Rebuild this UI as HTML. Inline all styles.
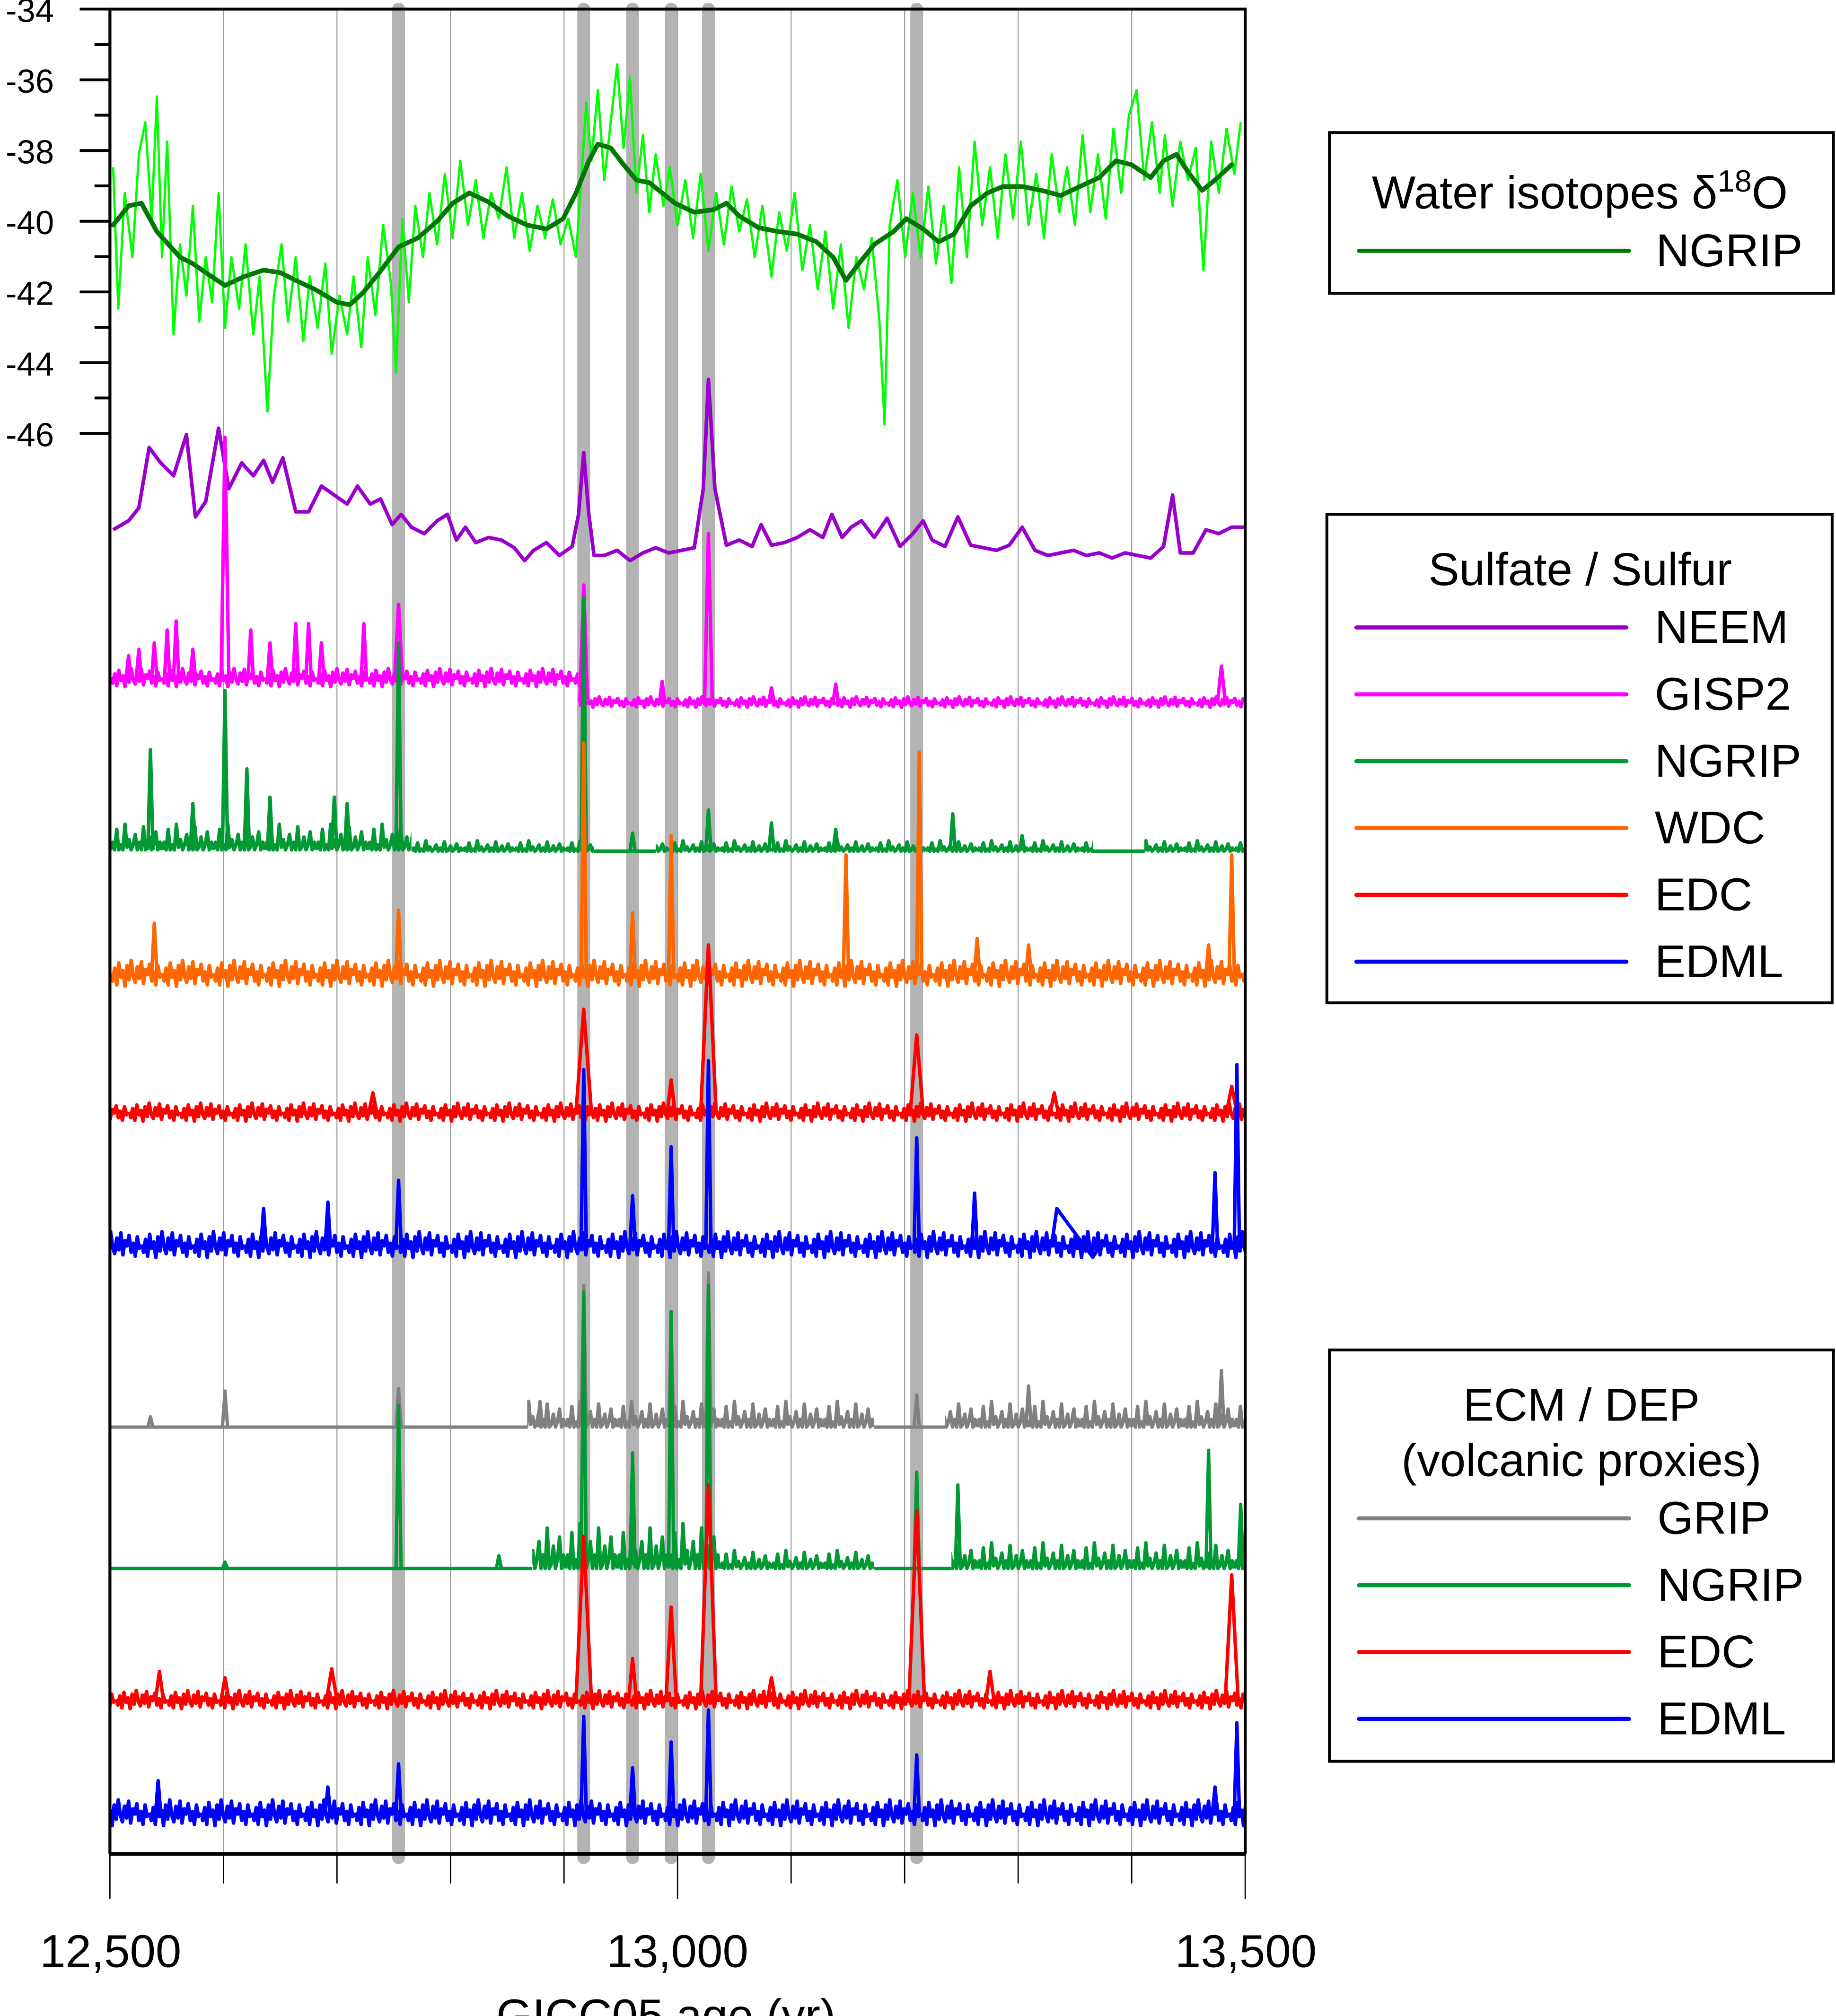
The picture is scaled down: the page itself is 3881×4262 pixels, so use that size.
<!DOCTYPE html>
<html><head><meta charset="utf-8"><style>html,body{margin:0;padding:0;background:#fff}svg{display:block}text{font-family:"Liberation Sans",Arial,sans-serif;fill:#000}</style></head>
<body>
<svg xmlns="http://www.w3.org/2000/svg" width="3881" height="4262" viewBox="0 0 1428 1568">
<defs>
<path id="z4" fill="none" stroke-width="2.8" stroke-linejoin="round" d="M0,0 L1.6,2.4 3.2,-1.6 4.8,3.6 6.4,-3.2 8,1.2 9.6,-0.8 11.2,4 12.8,-2.4 14.4,2 16,-4 17.6,0.8 19.2,2.8 20.8,-2 22.4,1.6 24,-3.6 25.6,3.2 27.2,-1.2 28.8,0.4 30.4,-2.8 32,2.4 33.6,-0.4 35.2,3.6 36.8,-2.4 38.4,1.2 40,0"/>
<path id="z7" fill="none" stroke-width="2.8" stroke-linejoin="round" d="M0,0 L1.6,4.2 3.2,-2.8 4.8,6.3 6.4,-5.6 8,2.1 9.6,-1.4 11.2,7 12.8,-4.2 14.4,3.5 16,-7 17.6,1.4 19.2,4.9 20.8,-3.5 22.4,2.8 24,-6.3 25.6,5.6 27.2,-2.1 28.8,0.7 30.4,-4.9 32,4.2 33.6,-0.7 35.2,6.3 36.8,-4.2 38.4,2.1 40,0"/>
<path id="z10" fill="none" stroke-width="2.8" stroke-linejoin="round" d="M0,0 L1.6,6 3.2,-4 4.8,9 6.4,-8 8,3 9.6,-2 11.2,10 12.8,-6 14.4,5 16,-10 17.6,2 19.2,7 20.8,-5 22.4,4 24,-9 25.6,8 27.2,-3 28.8,1 30.4,-7 32,6 33.6,-1 35.2,9 36.8,-6 38.4,3 40,0"/>
<path id="u8" fill="none" stroke-width="2.8" stroke-linejoin="round" d="M0,0 L1.6,-2.4 3.2,0 4.8,-6.4 6.4,0 8,-1.6 9.6,0 11.2,-8 12.8,-0.8 14.4,-3.2 16,0 17.6,-1.6 19.2,-4.8 20.8,0 22.4,-2.4 24,0 25.6,-7.2 27.2,0 28.8,-0.8 30.4,-4 32,0 33.6,-1.6 35.2,-5.6 36.8,0 38.4,-2.4 40,0"/>
<path id="u14" fill="none" stroke-width="2.7" stroke-linejoin="round" d="M0,0 L1.6,-4.2 3.2,0 4.8,-11.2 6.4,0 8,-2.8 9.6,0 11.2,-14 12.8,-1.4 14.4,-5.6 16,0 17.6,-2.8 19.2,-8.4 20.8,0 22.4,-4.2 24,0 25.6,-12.6 27.2,0 28.8,-1.4 30.4,-7 32,0 33.6,-2.8 35.2,-9.8 36.8,0 38.4,-4.2 40,0"/>
<path id="u20" fill="none" stroke-width="2.7" stroke-linejoin="round" d="M0,0 L1.6,-6 3.2,0 4.8,-16 6.4,0 8,-4 9.6,0 11.2,-20 12.8,-2 14.4,-8 16,0 17.6,-4 19.2,-12 20.8,0 22.4,-6 24,0 25.6,-18 27.2,0 28.8,-2 30.4,-10 32,0 33.6,-4 35.2,-14 36.8,0 38.4,-6 40,0"/>
<path id="u35" fill="none" stroke-width="2.7" stroke-linejoin="round" d="M0,0 L1.6,-10.5 3.2,0 4.8,-28 6.4,0 8,-7 9.6,0 11.2,-35 12.8,-3.5 14.4,-14 16,0 17.6,-7 19.2,-21 20.8,0 22.4,-10.5 24,0 25.6,-31.5 27.2,0 28.8,-3.5 30.4,-17.5 32,0 33.6,-7 35.2,-24.5 36.8,0 38.4,-10.5 40,0"/>
<pattern id="pGa" patternUnits="userSpaceOnUse" width="40" height="22" patternTransform="translate(86,516)"><use href="#z7" stroke="#ff00ff" transform="translate(0,11)"/></pattern>
<pattern id="pGb" patternUnits="userSpaceOnUse" width="40" height="16" patternTransform="translate(450,538)"><use href="#z4" stroke="#ff00ff" transform="translate(0,8)"/></pattern>
<pattern id="pNa" patternUnits="userSpaceOnUse" width="40" height="28" patternTransform="translate(86,637)"><use href="#u20" stroke="#009933" transform="translate(0,24)"/></pattern>
<pattern id="pNb" patternUnits="userSpaceOnUse" width="40" height="16" patternTransform="translate(0,650)"><use href="#u8" stroke="#009933" transform="translate(0,12)"/></pattern>
<pattern id="pW" patternUnits="userSpaceOnUse" width="40" height="28" patternTransform="translate(86,743)"><use href="#z10" stroke="#ff6600" transform="translate(0,14)"/></pattern>
<pattern id="pE" patternUnits="userSpaceOnUse" width="40" height="22" patternTransform="translate(100,854)"><use href="#z7" stroke="#ff0000" transform="translate(0,11)"/></pattern>
<pattern id="pM" patternUnits="userSpaceOnUse" width="40" height="28" patternTransform="translate(70,954)"><use href="#z10" stroke="#0000ff" transform="translate(0,14)"/></pattern>
<pattern id="pR" patternUnits="userSpaceOnUse" width="40" height="28" patternTransform="translate(0,1086)"><use href="#u20" stroke="#808080" transform="translate(0,24)"/></pattern>
<pattern id="pD1" patternUnits="userSpaceOnUse" width="40" height="43" patternTransform="translate(0,1181)"><use href="#u35" stroke="#009933" transform="translate(0,39)"/></pattern>
<pattern id="pD2" patternUnits="userSpaceOnUse" width="40" height="22" patternTransform="translate(0,1202)"><use href="#u14" stroke="#009933" transform="translate(0,18)"/></pattern>
<pattern id="pD3" patternUnits="userSpaceOnUse" width="40" height="28" patternTransform="translate(0,1196)"><use href="#u20" stroke="#009933" transform="translate(0,24)"/></pattern>
<pattern id="pE2" patternUnits="userSpaceOnUse" width="40" height="22" patternTransform="translate(90,1311)"><use href="#z7" stroke="#ff0000" transform="translate(0,11)"/></pattern>
<pattern id="pM2" patternUnits="userSpaceOnUse" width="40" height="28" patternTransform="translate(76,1396)"><use href="#z10" stroke="#0000ff" transform="translate(0,14)"/></pattern>
</defs>
<rect width="1428" height="1568" fill="#fff"/>
<g stroke="#999" stroke-width="0.8">
<line x1="173.8" y1="8" x2="173.8" y2="1442"/><line x1="262.1" y1="8" x2="262.1" y2="1442"/><line x1="350.4" y1="8" x2="350.4" y2="1442"/><line x1="438.7" y1="8" x2="438.7" y2="1442"/><line x1="527" y1="8" x2="527" y2="1442"/><line x1="615.3" y1="8" x2="615.3" y2="1442"/><line x1="703.6" y1="8" x2="703.6" y2="1442"/><line x1="791.9" y1="8" x2="791.9" y2="1442"/><line x1="880.2" y1="8" x2="880.2" y2="1442"/>
</g>
<g stroke="#b3b3b3" stroke-width="10" stroke-linecap="round">
<line x1="310" y1="7" x2="310" y2="1445"/><line x1="454" y1="7" x2="454" y2="1445"/><line x1="492" y1="7" x2="492" y2="1445"/><line x1="522" y1="7" x2="522" y2="1445"/><line x1="551" y1="7" x2="551" y2="1445"/><line x1="713" y1="7" x2="713" y2="1445"/>
</g>
<polyline fill="none" stroke="#00ff00" stroke-width="1.8" stroke-linejoin="round" points="88,130 92,240 97,150 103,200 108,120 113,95 118,170 122,75 126,200 130,110 135,260 140,190 145,230 150,160 155,250 160,200 165,235 170,150 175,255 180,200 186,240 191,190 197,260 202,215 208,320 213,230 219,190 224,250 230,200 236,265 241,215 247,255 253,205 258,275 264,230 270,260 275,215 281,270 286,200 292,245 298,175 304,220 308,290 313,170 318,235 323,160 329,200 334,150 340,190 346,135 352,185 358,125 364,175 370,140 376,185 382,150 388,170 394,130 400,185 406,150 412,195 418,160 424,185 430,155 436,190 442,170 448,200 452,140 456,80 460,125 465,70 470,140 475,95 480,50 485,115 490,60 495,150 500,105 505,165 510,120 516,160 521,130 527,175 533,140 539,185 545,135 551,195 557,150 563,190 569,145 575,180 581,155 587,200 593,160 600,215 606,165 612,195 618,150 624,210 630,175 636,225 642,180 648,240 654,190 660,255 666,200 672,225 678,185 684,250 688,330 692,175 698,140 704,200 710,150 716,200 722,145 728,205 734,160 740,220 746,130 752,200 758,110 764,175 770,130 776,185 782,120 788,170 794,110 800,175 806,135 812,185 818,120 824,165 830,130 836,175 842,105 848,165 854,120 860,170 866,100 872,150 878,90 884,70 890,140 896,95 902,150 906,105 912,160 918,110 924,140 930,115 936,210 942,110 948,150 954,100 960,135 965,95"/>
<polyline fill="none" stroke="#007700" stroke-width="3.6" stroke-linejoin="round" stroke-linecap="round" points="88,175 100,160 110,158 122,180 140,200 150,205 160,212 175,222 190,215 205,210 218,212 230,218 245,225 262,235 272,237 282,228 295,212 310,192 325,185 340,172 352,158 365,150 380,157 395,168 410,175 425,178 438,170 448,150 458,125 465,112 475,115 485,128 495,140 505,142 515,150 525,158 540,165 555,163 565,158 575,168 590,177 605,180 620,182 635,188 648,200 658,218 668,205 680,190 695,180 705,170 718,178 730,188 742,182 755,160 768,150 780,145 795,145 810,148 825,152 840,145 855,138 868,125 880,128 895,138 905,125 915,120 925,135 935,148 945,140 958,128"/>
<polyline fill="none" stroke="#9900cc" stroke-width="2.8" stroke-linejoin="round" points="88,412 100,405 108,395 116,348 125,360 135,370 145,338 152,402 160,390 170,333 178,380 188,360 197,370 205,358 212,375 220,356 230,398 240,398 250,378 260,385 270,392 278,378 288,392 296,388 305,408 312,400 320,410 330,415 340,405 348,400 355,420 362,410 370,422 380,418 390,420 400,426 408,436 415,428 425,422 435,432 445,425 450,400 454,352 458,400 462,432 470,432 480,428 490,436 500,430 510,426 520,430 530,428 540,426 547,380 551,295 556,380 565,424 575,420 585,425 592,408 600,424 610,422 620,418 630,412 640,418 647,400 655,418 662,410 670,405 680,418 690,403 700,425 710,415 718,405 725,420 735,425 745,402 755,424 765,426 775,428 785,424 795,410 805,428 815,432 825,430 835,428 845,432 855,430 865,434 875,430 885,432 895,434 905,425 912,385 918,430 928,430 938,412 948,415 958,410 968,410"/>
<rect x="86" y="516" width="364" height="22" fill="url(#pGa)"/>
<rect x="450" y="538" width="518" height="16" fill="url(#pGb)"/>
<rect x="86" y="637" width="234" height="28" fill="url(#pNa)"/>
<rect x="320" y="650" width="142" height="16" fill="url(#pNb)"/>
<rect x="510" y="650" width="340" height="16" fill="url(#pNb)"/>
<rect x="890" y="650" width="78" height="16" fill="url(#pNb)"/>
<rect x="86" y="743" width="882" height="28" fill="url(#pW)"/>
<rect x="86" y="854" width="882" height="22" fill="url(#pE)"/>
<rect x="86" y="954" width="882" height="28" fill="url(#pM)"/>
<rect x="410" y="1086" width="270" height="28" fill="url(#pR)"/>
<rect x="735" y="1086" width="233" height="28" fill="url(#pR)"/>
<rect x="414" y="1181" width="146" height="43" fill="url(#pD1)"/>
<rect x="560" y="1202" width="120" height="22" fill="url(#pD2)"/>
<rect x="740" y="1196" width="228" height="28" fill="url(#pD3)"/>
<rect x="86" y="1311" width="882" height="22" fill="url(#pE2)"/>
<rect x="86" y="1396" width="882" height="28" fill="url(#pM2)"/>
<g fill="none" stroke-width="2.7" stroke-linejoin="round">
<path stroke="#ff00ff" d="M98,527L100,510L102,527M106,527L108,505L110,527M118,527L120,500L122,527M128,527L130,490L132,527M135,527L137,483L139,527M148,527L150,505L152,527M172,527L175,340L178,527M193,527L195,490L197,527M208,527L210,500L212,527M228,527L230,485L232,527M238,527L240,485L242,527M248,527L250,500L252,527M281,527L283,485L285,527M307,527L310,470L313,527M451,546L454,455L457,546M513,546L515,530L517,546M548,546L551,415L554,546M598,546L600,535L602,546M648,546L650,532L652,546M947,546L950,518L953,546"/>
<path stroke="#009933" d="M462,662L510,662M850,662L890,662M115,661L117,583L119,661M148,661L150,625L152,661M173,661L175,537L177,661M190,661L192,598L194,661M208,661L210,620L212,661M258,661L260,620L262,661M268,661L270,625L272,661M308,661L310,500L312,661M452,662L454,465L456,662M490,662L492,648L494,662M549,662L551,630L553,662M598,662L600,640L602,662M648,662L650,645L652,662M739,662L741,633L743,662M793,662L795,650L797,662"/>
<path stroke="#ff6600" d="M118,757L120,718L122,757M308,757L310,708L312,757M452,757L454,578L456,757M490,757L492,710L494,757M520,757L522,650L524,757M656,757L658,665L660,757M713,757L715,585L717,757M956,757L958,665L960,757M758,757L760,730L762,757M798,757L800,735L802,757M938,757L940,735L942,757"/>
<path stroke="#ff0000" d="M448,865L454,785L460,865M545,865L551,735L557,865M708,865L713,805L718,865M519,865L522,840L525,865M954,865L958,845L962,865M287,865L290,850L293,865M817,865L820,850L823,865"/>
<path stroke="#0000ff" d="M308,968L310,918L312,968M452,968L454,832L456,968M490,968L492,930L494,968M520,968L522,892L524,968M549,968L551,825L553,968M711,968L713,885L715,968M756,968L758,928L760,968M943,968L945,912L947,968M960,968L962,828L964,968M203,968L205,940L207,968M253,968L255,935L257,968M818,968L822,940L850,978L856,968"/>
<path stroke="#808080" stroke-width="2.6" d="M86,1110L410,1110M680,1110L735,1110M115,1110L117,1102L119,1110M173,1110L175,1082L177,1110M308,1110L310,1080L312,1110M452,1110L454,1000L456,1110M520,1110L522,1030L524,1110M549,1110L551,990L553,1110M711,1110L713,1085L715,1110M948,1110L950,1066L952,1110M798,1110L800,1078L802,1110M418,1110L420,1090L422,1110"/>
<path stroke="#009933" stroke-width="2.6" d="M86,1220L414,1220M680,1220L740,1220M173,1220L175,1215L177,1220M308,1220L310,1093L312,1220M386,1220L388,1210L390,1220M452,1220L454,1005L456,1220M490,1220L492,1130L494,1220M520,1220L522,1020L524,1220M549,1220L551,1000L553,1220M711,1220L713,1145L715,1220M743,1220L745,1155L747,1220M938,1220L940,1128L942,1220M963,1220L965,1170L967,1220"/>
<path stroke="#ff0000" d="M121,1322L124,1300L127,1322M172,1322L175,1305L178,1322M254,1322L258,1298L262,1322M448,1322L454,1195L460,1322M518,1322L522,1250L526,1322M545,1322L551,1155L557,1322M707,1322L713,1175L719,1322M953,1322L958,1225L963,1322M489,1322L492,1290L495,1322M597,1322L600,1305L603,1322M767,1322L770,1300L773,1322"/>
<path stroke="#0000ff" d="M121,1410L123,1385L125,1410M308,1410L310,1372L312,1410M452,1410L454,1335L456,1410M490,1410L492,1375L494,1410M520,1410L522,1355L524,1410M549,1410L551,1330L553,1410M711,1410L713,1365L715,1410M960,1410L962,1340L964,1410M253,1410L255,1390L257,1410M943,1410L945,1390L947,1410"/>
</g>
<g stroke="#000" fill="none">
<polyline points="85.5,1442 85.5,7 968.5,7 968.5,1442" stroke-width="2.3"/>
<line x1="85.5" y1="1442" x2="968.5" y2="1442" stroke-width="3"/>
<g stroke-width="2.2">
<line x1="62" y1="7" x2="85" y2="7"/><line x1="73.5" y1="34.5" x2="85" y2="34.5"/><line x1="62" y1="62" x2="85" y2="62"/><line x1="73.5" y1="89.5" x2="85" y2="89.5"/><line x1="62" y1="117" x2="85" y2="117"/><line x1="73.5" y1="144.5" x2="85" y2="144.5"/><line x1="62" y1="172" x2="85" y2="172"/><line x1="73.5" y1="199.5" x2="85" y2="199.5"/><line x1="62" y1="227" x2="85" y2="227"/><line x1="73.5" y1="254.5" x2="85" y2="254.5"/><line x1="62" y1="282" x2="85" y2="282"/><line x1="73.5" y1="309.5" x2="85" y2="309.5"/><line x1="62" y1="337" x2="85" y2="337"/>
</g>
<g stroke-width="1">
<line x1="85.5" y1="1442" x2="85.5" y2="1477"/><line x1="173.8" y1="1442" x2="173.8" y2="1465"/><line x1="262.1" y1="1442" x2="262.1" y2="1465"/><line x1="350.4" y1="1442" x2="350.4" y2="1465"/><line x1="438.7" y1="1442" x2="438.7" y2="1465"/><line x1="527" y1="1442" x2="527" y2="1477"/><line x1="615.3" y1="1442" x2="615.3" y2="1465"/><line x1="703.6" y1="1442" x2="703.6" y2="1465"/><line x1="791.9" y1="1442" x2="791.9" y2="1465"/><line x1="880.2" y1="1442" x2="880.2" y2="1465"/><line x1="968.5" y1="1442" x2="968.5" y2="1477"/>
</g>
</g>
<g font-size="26" text-anchor="end">
<text x="42" y="17">-34</text><text x="42" y="72">-36</text><text x="42" y="127">-38</text><text x="42" y="182">-40</text><text x="42" y="237">-42</text><text x="42" y="292">-44</text><text x="42" y="347">-46</text>
</g>
<g font-size="36" text-anchor="middle">
<text x="86" y="1530">12,500</text><text x="527" y="1530">13,000</text><text x="969" y="1530">13,500</text>
<text x="518" y="1580">GICC05 age (yr)</text>
</g>
<g fill="#fff" stroke="#000" stroke-width="2.2">
<rect x="1034" y="103" width="392" height="125"/>
<rect x="1032" y="400" width="393" height="380"/>
<rect x="1034" y="1050" width="392" height="320"/>
</g>
<g font-size="36">
<text x="1067" y="162">Water isotopes δ<tspan font-size="24" dy="-13">18</tspan><tspan dy="13">O</tspan></text>
<text x="1288" y="207">NGRIP</text>
<text x="1229" y="455" text-anchor="middle">Sulfate / Sulfur</text>
<text x="1287" y="500">NEEM</text><text x="1287" y="552">GISP2</text><text x="1287" y="604">NGRIP</text><text x="1287" y="656">WDC</text><text x="1287" y="708">EDC</text><text x="1287" y="760">EDML</text>
<text x="1230" y="1105" text-anchor="middle">ECM / DEP</text>
<text x="1230" y="1148" text-anchor="middle">(volcanic proxies)</text>
<text x="1289" y="1193">GRIP</text><text x="1289" y="1245">NGRIP</text><text x="1289" y="1297">EDC</text><text x="1289" y="1349">EDML</text>
</g>
<g stroke-width="3.2" stroke-linecap="round">
<line x1="1057" y1="195" x2="1267" y2="195" stroke="#007a00"/>
<line x1="1055" y1="488" x2="1265" y2="488" stroke="#9900cc"/>
<line x1="1055" y1="540" x2="1265" y2="540" stroke="#ff00ff"/>
<line x1="1055" y1="592" x2="1265" y2="592" stroke="#009933"/>
<line x1="1055" y1="644" x2="1265" y2="644" stroke="#ff6600"/>
<line x1="1055" y1="696" x2="1265" y2="696" stroke="#ff0000"/>
<line x1="1055" y1="748" x2="1265" y2="748" stroke="#0000ff"/>
<line x1="1057" y1="1181" x2="1267" y2="1181" stroke="#808080"/>
<line x1="1057" y1="1233" x2="1267" y2="1233" stroke="#009933"/>
<line x1="1057" y1="1285" x2="1267" y2="1285" stroke="#ff0000"/>
<line x1="1057" y1="1337" x2="1267" y2="1337" stroke="#0000ff"/>
</g>
</svg>
</body></html>
